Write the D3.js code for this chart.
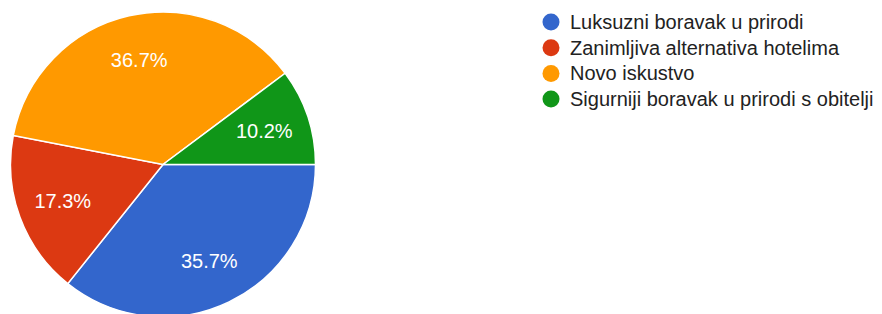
<!DOCTYPE html>
<html>
<head>
<meta charset="utf-8">
<script src="https://cdn.jsdelivr.net/npm/d3@7"></script>
<style>
  body { margin: 0; background: #fff; }
  svg { display: block; font-family: Arial, "Liberation Sans", sans-serif; }
</style>
</head>
<body>
<div id="chart"></div>
<script>
var categories = ["Luksuzni boravak u prirodi", "Zanimljiva alternativa hotelima", "Novo iskustvo", "Sigurniji boravak u prirodi s obitelji"];
var values = [35.7, 17.3, 36.7, 10.2];
var colors = ["#3366cc", "#dc3912", "#ff9900", "#109618"];

var width = 882, height = 314;
var cx = 163, cy = 164.5, radius = 152.5;

var svg = d3.select("#chart")
    .append("svg")
        .attr("width", width)
        .attr("height", height);

var data = categories.map(function(c, i){
    return {name: c, value: values[i], color: colors[i]};
});

/* Pie - starts at 3 o'clock, clockwise */
var pie = d3.pie()
    .sort(null)
    .value(function(d){ return d.value; })
    .startAngle(Math.PI / 2)
    .endAngle(Math.PI / 2 + 2 * Math.PI);

var arc = d3.arc().innerRadius(0).outerRadius(radius);
var labelArc = d3.arc().innerRadius(radius * 0.7).outerRadius(radius * 0.7);

var main = svg.append("g")
    .attr("transform", "translate(" + cx + "," + cy + ")");

main.selectAll(".slice")
    .data(pie(data))
    .enter()
    .append("path")
        .attr("class", "slice")
        .attr("d", arc)
        .attr("fill", function(d){ return d.data.color; })
        .attr("stroke", "#fff")
        .attr("stroke-width", 1.5);

main.selectAll(".label")
    .data(pie(data))
    .enter()
    .append("text")
        .attr("class", "label")
        .attr("transform", function(d){ return "translate(" + labelArc.centroid(d) + ")"; })
        .attr("text-anchor", "middle")
        .attr("dy", "0.35em")
        .attr("fill", "#fff")
        .style("font-size", "20px")
        .text(function(d){ return d.data.value.toFixed(1) + "%"; });

/* Legend */
var legend = svg.append("g")
    .attr("transform", "translate(551,22)");

var items = legend.selectAll(".item")
    .data(data)
    .enter()
    .append("g")
        .attr("class", "item")
        .attr("transform", function(d, i){ return "translate(0," + (i * 25.7) + ")"; });

items.append("circle")
    .attr("r", 8.5)
    .attr("fill", function(d){ return d.color; });

items.append("text")
    .attr("x", 19)
    .attr("dy", "0.35em")
    .attr("fill", "#222")
    .style("font-size", "20px")
    .text(function(d){ return d.name; });
</script>
</body>
</html>
